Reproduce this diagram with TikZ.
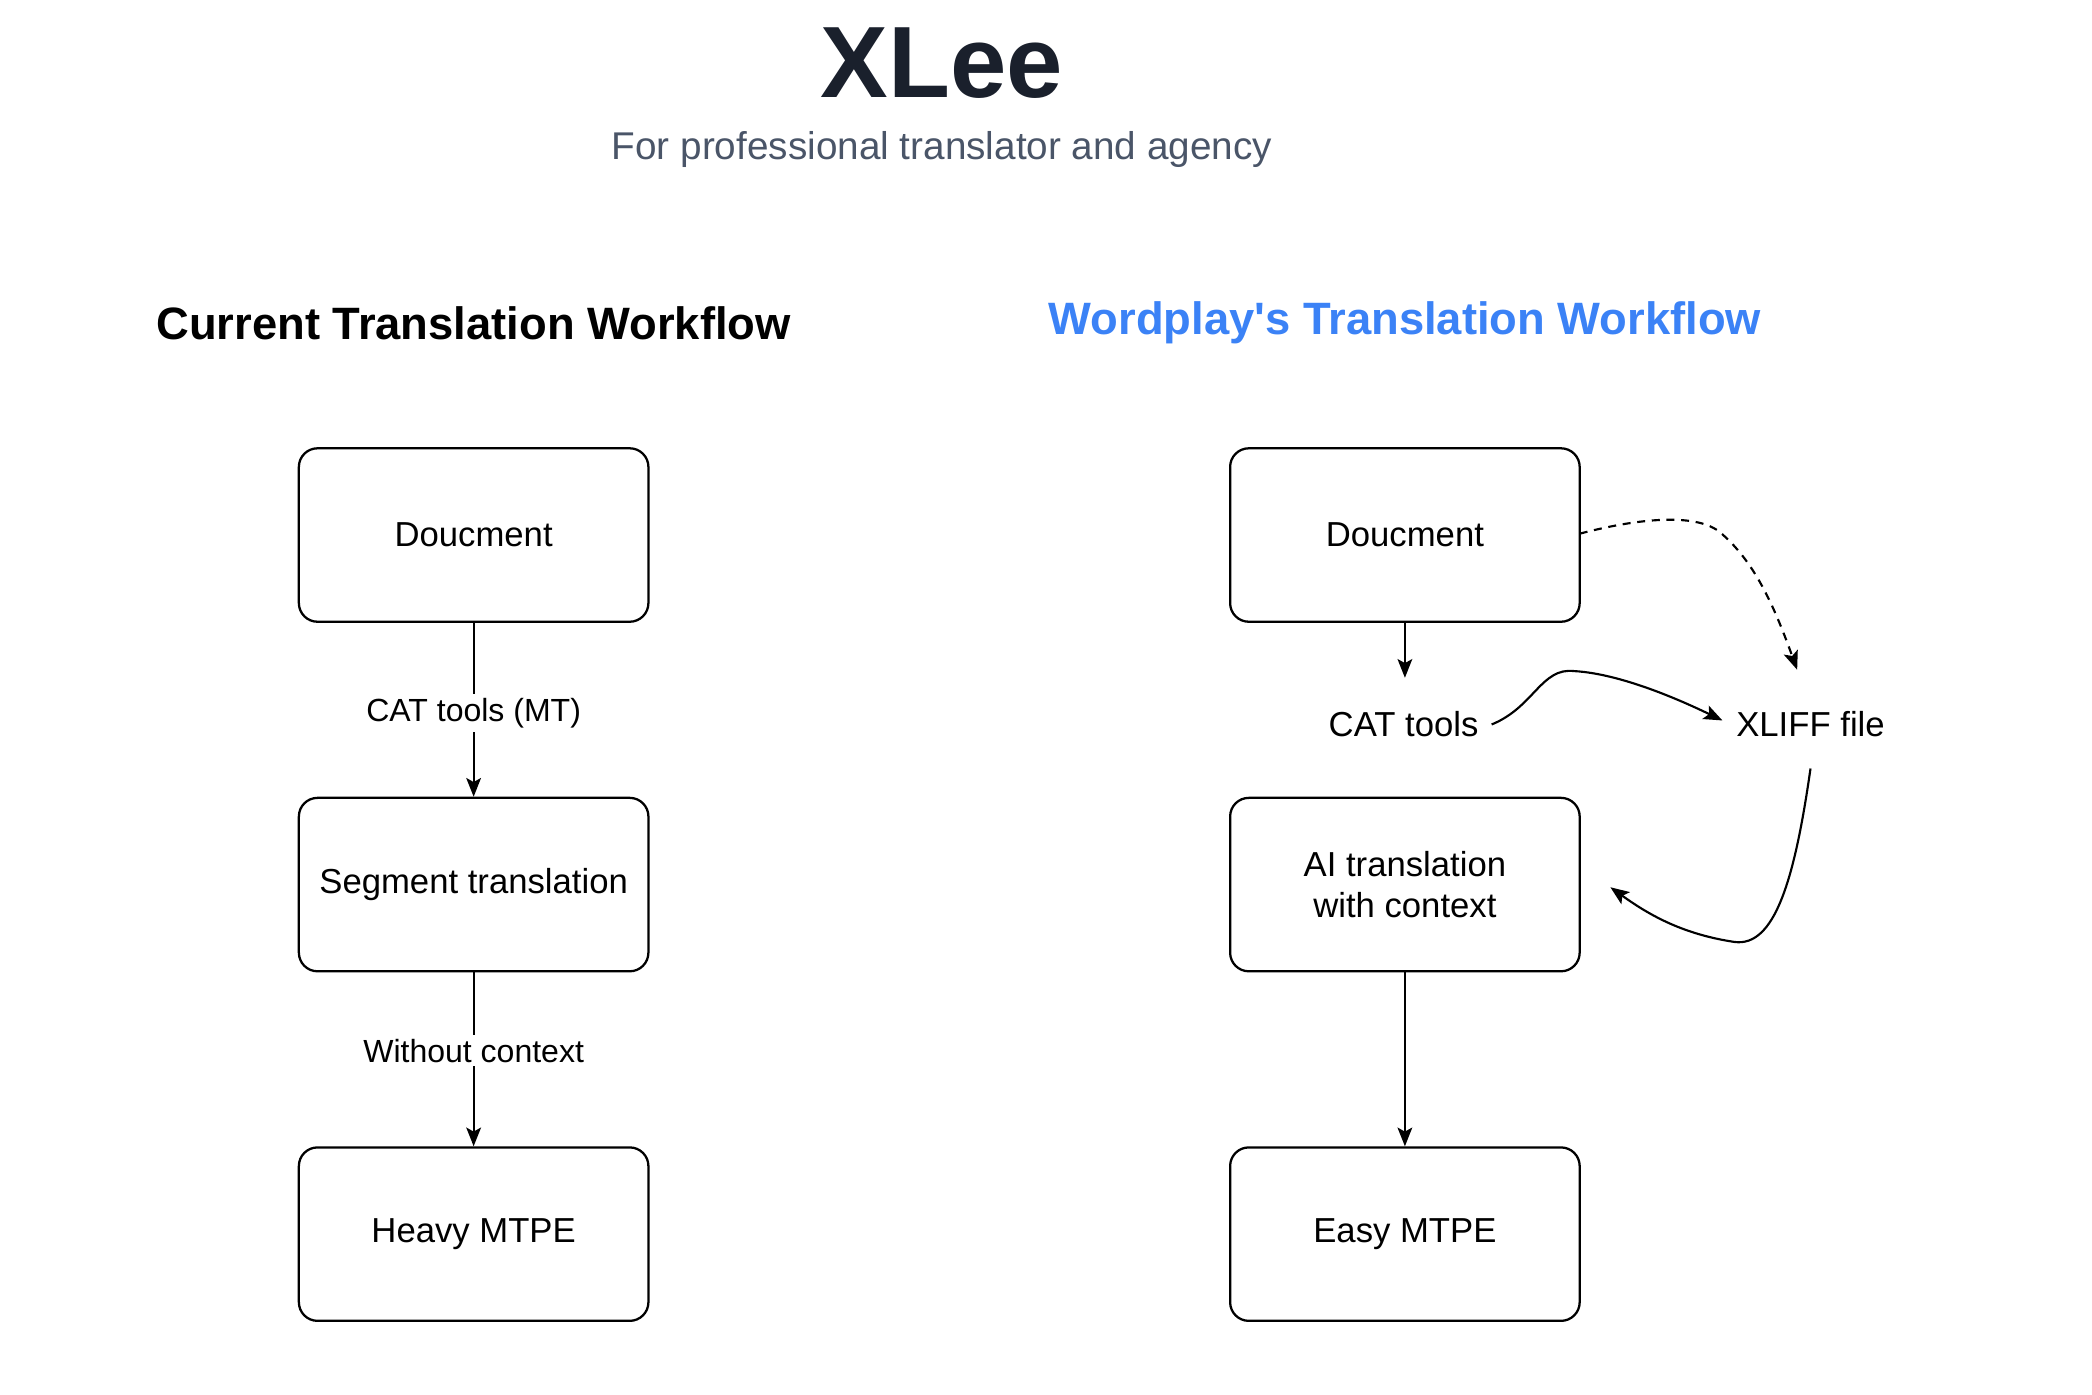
\documentclass[tikz,border=0pt]{standalone}
\usepackage{fontspec}
\setmainfont{Liberation Sans}
\usetikzlibrary{arrows.meta}
\definecolor{navy}{HTML}{1A202C}
\definecolor{sub}{HTML}{4A5568}
\definecolor{wblue}{HTML}{3B82F6}
\begin{document}
\begin{tikzpicture}[x=1pt,y=-1pt,
  box/.style={draw,line width=1.7pt,rounded corners=14pt,minimum width=262pt,minimum height=130pt,font=\fontsize{26}{31}\selectfont,align=center},
  lbl/.style={font=\fontsize{24}{28}\selectfont,fill=white,inner sep=3pt},
  arr/.style={line width=1.6pt,-{Stealth[length=14pt,width=11pt,inset=3pt]}}]
\useasboundingbox (0,0) rectangle (1568,1045);
\node[font=\fontsize{76}{80}\selectfont\bfseries,text=navy] (t) at (706,47) {XLee};
\node[font=\fontsize{29}{32}\selectfont,text=sub] (s) at (706,112) {For professional translator and agency};
\node[font=\fontsize{34}{37}\selectfont\bfseries] (h1) at (355,242) {Current Translation Workflow};
\node[font=\fontsize{34}{37}\selectfont\bfseries,text=wblue] (h2) at (1053,242) {Wordplay\textquotesingle s Translation Workflow};
\node[box] (a1) at (355,401) {Doucment};
\node[box] (a2) at (355,663) {Segment translation};
\node[box] (a3) at (355,925) {Heavy MTPE};
\draw[arr] (a1) -- node[lbl,pos=0.52]{CAT tools (MT)} (a2);
\draw[arr] (a2) -- node[lbl,pos=0.45]{Without context} (a3);
\node[box] (b1) at (1053,401) {Doucment};
\node[lbl,font=\fontsize{26}{30}\selectfont] (cat) at (1052,543) {CAT tools};
\node[lbl,font=\fontsize{26}{30}\selectfont] (x) at (1357,543) {XLIFF file};
\node[box] (b2) at (1053,663) {AI translation\\with context};
\node[box] (b3) at (1053,925) {Easy MTPE};
\coordinate (c1) at (1053,508);
\draw[arr] (b1.south) -- (c1);
\coordinate (d0) at (1118,543);
\coordinate (d1) at (1291,540);
\draw[arr] (d0) .. controls (1150,530) and (1155,500) .. (1180,503) .. controls (1215,505) and (1260,525) .. (d1);
\coordinate (e0) at (1184,400);
\coordinate (e1) at (1347,502);
\draw[arr,dashed,dash pattern=on 6pt off 5pt] (e0) .. controls (1230,388) and (1270,385) .. (1288,398) .. controls (1315,420) and (1330,455) .. (e1);
\coordinate (f0) at (1357,576);
\coordinate (f1) at (1207,665);
\draw[arr] (f0) .. controls (1345,660) and (1330,710) .. (1300,706) .. controls (1260,700) and (1235,685) .. (f1);
\draw[arr] (b2) -- (b3);
\end{tikzpicture}
\end{document}
